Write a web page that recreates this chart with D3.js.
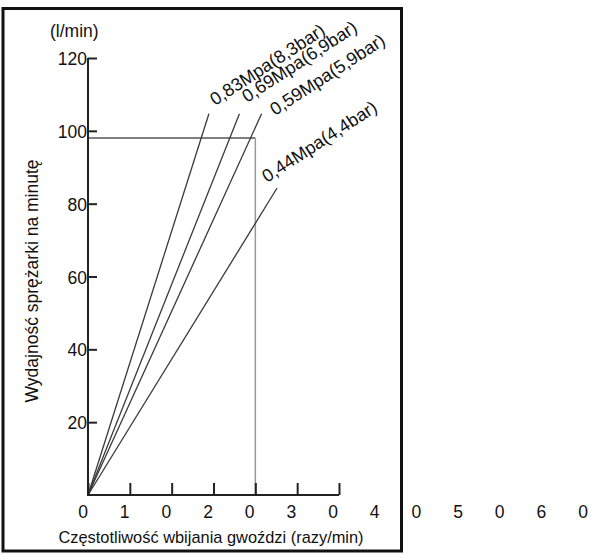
<!DOCTYPE html>
<html>
<head>
<meta charset="utf-8">
<script src="https://cdn.jsdelivr.net/npm/d3@7"></script>
<style>
  html, body { margin: 0; padding: 0; background: #fff; }
  svg { display: block; }
  text { font-family: "Liberation Sans", Arial, sans-serif; fill: #111; }
</style>
</head>
<body>
<svg id="chart" width="593" height="554"></svg>
<script>
// ---- data ----
const yTicks = [20, 40, 60, 80, 100, 120];
const xTicks = [0, 10, 20, 30, 40, 50, 60];
const xTickLabels = ["0", "1", "0", "2", "0", "3", "0", "4", "0", "5", "0", "6", "0"];
const seriesNames = ["0,83Mpa(8,3bar)", "0,69Mpa(6,9bar)", "0,59Mpa(5,9bar)", "0,44Mpa(4,4bar)"];
const seriesEndX = [28.9, 36.2, 41.5, 45.2];
const seriesEndY = [104.7, 104.7, 104.7, 84.3];
const refPointX = 40;
const refPointY = 98;
const yUnit = "(l/min)";
const xTitle = "Częstotliwość wbijania gwoździ (razy/min)";
const yTitle = "Wydajność sprężarki na minutę";

// ---- layout ----
const svg = d3.select("#chart");
const x = d3.scaleLinear().domain([0, 60]).range([88, 339]);
const y = d3.scaleLinear().domain([0, 120]).range([495, 58]);
const labelPos = d3.scalePoint().domain(d3.range(xTickLabels.length)).range([83, 583]);

// frame
svg.append("rect")
  .attr("x", 3).attr("y", 8.5).attr("width", 398.5).attr("height", 542.5)
  .attr("fill", "none").attr("stroke", "#111").attr("stroke-width", 3);

// reference lines
svg.append("line")
  .attr("x1", x(0)).attr("x2", x(refPointX))
  .attr("y1", y(refPointY)).attr("y2", y(refPointY))
  .attr("stroke", "#555").attr("stroke-width", 1.5);
svg.append("line")
  .attr("x1", x(refPointX)).attr("x2", x(refPointX))
  .attr("y1", y(refPointY)).attr("y2", y(0))
  .attr("stroke", "#999").attr("stroke-width", 1.5);

// series lines
const lineGen = d3.line().x(d => x(d[0])).y(d => y(d[1]));
seriesNames.forEach((name, i) => {
  svg.append("path")
    .attr("d", lineGen([[0, 0], [seriesEndX[i], seriesEndY[i]]]))
    .attr("fill", "none").attr("stroke", "#3a3a3a").attr("stroke-width", 1.3);
});

// y axis
const yAxis = d3.axisRight(y).tickValues(yTicks).tickSize(9).tickFormat("");
const gy = svg.append("g").attr("transform", `translate(${x(0)},0)`).call(yAxis);
gy.select(".domain").remove();
gy.selectAll("line").attr("stroke", "#222").attr("stroke-width", 2);
svg.append("line")
  .attr("x1", x(0)).attr("x2", x(0)).attr("y1", y(120)).attr("y2", y(0) + 1)
  .attr("stroke", "#222").attr("stroke-width", 2);
svg.selectAll(".ylab").data(yTicks).enter().append("text")
  .attr("class", "ylab")
  .attr("x", x(0) - 1).attr("y", d => y(d) + 7)
  .attr("text-anchor", "end").attr("font-size", 17.5)
  .text(d => d);

// x axis
const xAxis = d3.axisTop(x).tickValues(xTicks).tickSize(12).tickFormat("");
const gx = svg.append("g").attr("transform", `translate(0,${y(0)})`).call(xAxis);
gx.select(".domain").remove();
gx.selectAll("line").attr("stroke", "#222").attr("stroke-width", 2);
svg.append("line")
  .attr("x1", x(0) - 1).attr("x2", x(60)).attr("y1", y(0)).attr("y2", y(0))
  .attr("stroke", "#222").attr("stroke-width", 2);
svg.selectAll(".xlab").data(xTickLabels).enter().append("text")
  .attr("class", "xlab")
  .attr("x", (d, i) => labelPos(i)).attr("y", 518)
  .attr("text-anchor", "middle").attr("font-size", 17.5)
  .text(d => d);

// titles
svg.append("text").attr("x", 211).attr("y", 543)
  .attr("text-anchor", "middle").attr("font-size", 16.4).text(xTitle);
svg.append("text")
  .attr("transform", "translate(38,281) rotate(-90)")
  .attr("text-anchor", "middle").attr("font-size", 17.5).text(yTitle);
svg.append("text").attr("x", 50).attr("y", 37)
  .attr("font-size", 17.5).text(yUnit);

// series labels
const labelAnchors = [[215, 106], [247, 103], [275, 116], [267, 183]];
seriesNames.forEach((name, i) => {
  svg.append("text")
    .attr("transform", `translate(${labelAnchors[i][0]},${labelAnchors[i][1]}) rotate(-33)`)
    .attr("font-size", 18).text(name);
});
</script>
</body>
</html>
